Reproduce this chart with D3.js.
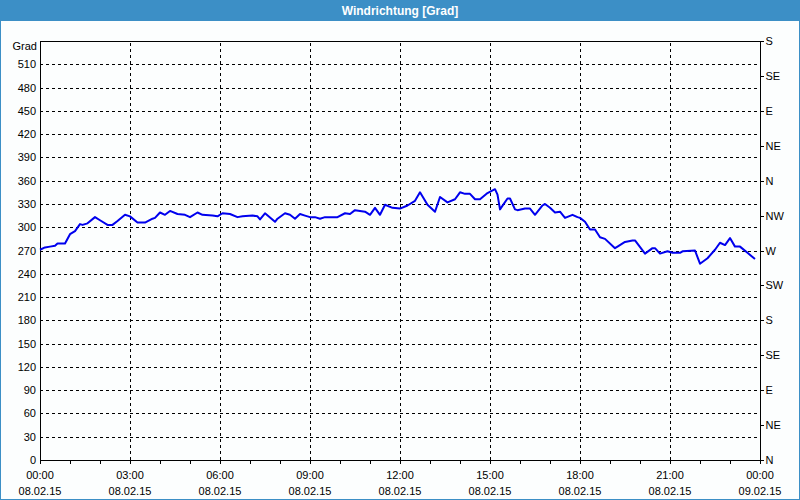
<!DOCTYPE html>
<html>
<head>
<meta charset="utf-8">
<script src="https://cdn.jsdelivr.net/npm/d3@7"></script>
<style>
body { margin: 0; background: #fff; }
svg { display: block; font-family: "Liberation Sans", Arial, sans-serif; }
</style>
</head>
<body>
<svg width="800" height="500"></svg>
<script>
var svg = d3.select('svg');
var width = +svg.attr('width');
var height = +svg.attr('height');

var title = 'Windrichtung [Grad]';
var day = '2015-02-08';

// measured times (HH:MM on 08.02.15) and direction in degrees
var times = [
	'00:00','00:10','00:20','00:30','00:35','00:50','01:00','01:10','01:20','01:25',
	'01:35','01:50','02:00','02:15','02:25','02:35','02:50','03:00','03:15','03:30',
	'03:45','03:50','04:00','04:10','04:20','04:35','04:50','05:00','05:15','05:25',
	'05:45','05:55','06:05','06:20','06:35','06:45','07:05','07:15','07:20','07:30',
	'07:50','07:55','08:10','08:20','08:30','08:40','08:50','09:00','09:10','09:20',
	'09:30','09:55','10:10','10:20','10:30','10:50','11:00','11:10','11:20','11:30',
	'11:45','12:00','12:15','12:30','12:40','12:55','13:10','13:20','13:35','13:50',
	'14:00','14:10','14:20','14:30','14:40','14:55','15:10','15:15','15:20','15:35',
	'15:40','15:50','15:55','16:10','16:20','16:30','16:45','16:50','17:00','17:10',
	'17:20','17:30','17:45','17:55','18:00','18:10','18:20','18:30','18:40','18:50',
	'19:10','19:15','19:30','19:45','19:50','20:10','20:25','20:30','20:40','20:55',
	'21:05','21:20','21:25','21:50','22:00','22:15','22:30','22:40','22:50','23:00',
	'23:10','23:20','23:35','23:50'
];
var values = [
	271,274,275,276,279,279,291,295,304,303,
	305,313,309,303,303,308,316,314,306,306,
	311,312,319,316,321,317,316,313,319,316,
	315,314,318,317,313,314,315,314,310,318,
	307,311,318,316,311,317,315,313,313,311,
	313,313,318,317,322,320,316,325,316,329,
	325,324,328,334,345,329,320,339,332,336,
	345,343,343,336,336,344,349,342,323,337,
	337,323,322,324,324,316,328,330,325,319,
	320,312,316,313,312,307,297,297,287,285,
	273,275,281,283,283,266,273,273,266,269,
	267,267,269,270,253,260,271,280,277,286,
	275,275,267,259
];

// axis labels
var leftTicks = d3.range(0, 511, 30);
var compass = ['N','NE','E','SE','S','SW','W','NW','N','NE','E','SE','S'];

var margin = {left: 40, right: 40, top: 41, bottom: 40};
var parse = d3.timeParse('%Y-%m-%d %H:%M');
var data = times.map(function(t, i) { return {t: parse(day + ' ' + t), v: values[i]}; });

var t0 = parse(day + ' 00:00');
var t1 = d3.timeDay.offset(t0, 1);

var x = d3.scaleTime().domain([t0, t1]).range([margin.left, width - margin.right]);
var y = d3.scaleLinear().domain([0, 540]).range([height - margin.bottom, margin.top]);

// window frame + title bar
svg.append('rect').attr('x', 0.5).attr('y', 0.5).attr('width', width - 1).attr('height', height - 1)
	.attr('fill', '#fcfefe').attr('stroke', '#3c8fc6');
svg.append('rect').attr('x', 0).attr('y', 0).attr('width', width).attr('height', 21).attr('fill', '#3c8fc6');
svg.append('text').text(title)
	.attr('x', width / 2).attr('y', 14.5)
	.attr('text-anchor', 'middle').attr('fill', 'white')
	.attr('font-weight', 'bold').attr('font-size', '12px');

//Grid lines
var grid = svg.append('g').attr('stroke', '#000').attr('stroke-dasharray', '3,3').attr('shape-rendering', 'crispEdges');
grid.selectAll('.hg').data(leftTicks.filter(function(d) { return d > 0; }))
	.enter().append('line')
	.attr('x1', x.range()[0]).attr('x2', x.range()[1])
	.attr('y1', function(d) { return Math.round(y(d)) + 0.5; })
	.attr('y2', function(d) { return Math.round(y(d)) + 0.5; });
grid.selectAll('.vg').data(d3.timeHour.every(3).range(d3.timeHour.offset(t0, 3), t1))
	.enter().append('line')
	.attr('x1', function(d) { return Math.round(x(d)) + 0.5; })
	.attr('x2', function(d) { return Math.round(x(d)) + 0.5; })
	.attr('y1', y.range()[0]).attr('y2', y.range()[1]);

//Frame of plot area
svg.append('rect')
	.attr('x', x.range()[0] + 0.5).attr('y', y.range()[1] + 0.5)
	.attr('width', x.range()[1] - x.range()[0]).attr('height', y.range()[0] - y.range()[1])
	.attr('fill', 'none').attr('stroke', '#000').attr('shape-rendering', 'crispEdges');

//Left axis labels
var leftAxis = svg.append('g').attr('transform', 'translate(' + x.range()[0] + ',0)')
	.call(d3.axisLeft(y).tickValues(leftTicks).tickSize(0).tickPadding(4));
leftAxis.select('.domain').remove();
leftAxis.selectAll('text').attr('font-size', '11px').attr('font-family', null).attr('fill', '#000');
svg.append('text').text('Grad').attr('x', 37).attr('y', 50)
	.attr('text-anchor', 'end').attr('font-size', '11px');

//Right compass axis
var rightAxis = svg.append('g').attr('transform', 'translate(' + (x.range()[1] + 0.5) + ',0)')
	.call(d3.axisRight(y).tickValues(d3.range(0, 541, 45)).tickSize(3).tickPadding(2)
		.tickFormat(function(d, i) { return compass[i]; }));
rightAxis.select('.domain').remove();
rightAxis.selectAll('line').attr('shape-rendering', 'crispEdges');
rightAxis.selectAll('text').attr('font-size', '11px').attr('font-family', null).attr('fill', '#000');

//Bottom time axis
var bottomAxis = svg.append('g').attr('transform', 'translate(0,' + (y.range()[0] + 0.5) + ')')
	.call(d3.axisBottom(x).ticks(d3.timeHour.every(1)).tickSize(3).tickFormat(''));
bottomAxis.select('.domain').remove();
bottomAxis.selectAll('line').attr('shape-rendering', 'crispEdges');

var labelTimes = d3.timeHour.every(3).range(t0, d3.timeMinute.offset(t1, 1));
var fmtTime = d3.timeFormat('%H:%M');
var fmtDate = d3.timeFormat('%d.%m.%y');
var bl = svg.append('g').attr('font-size', '11px').attr('text-anchor', 'middle');
bl.selectAll('.tl').data(labelTimes).enter().append('text')
	.attr('x', function(d) { return x(d); }).attr('y', 479)
	.text(fmtTime);
bl.selectAll('.dl').data(labelTimes).enter().append('text')
	.attr('x', function(d) { return x(d); }).attr('y', 495)
	.text(fmtDate);

//Wind direction line
var line = d3.line()
	.x(function(d) { return x(d.t); })
	.y(function(d) { return y(d.v); });
svg.append('path').datum(data)
	.attr('d', line)
	.attr('fill', 'none')
	.attr('stroke', '#0000ee')
	.attr('stroke-width', 2)
	.attr('stroke-linejoin', 'round');
</script>
</body>
</html>
